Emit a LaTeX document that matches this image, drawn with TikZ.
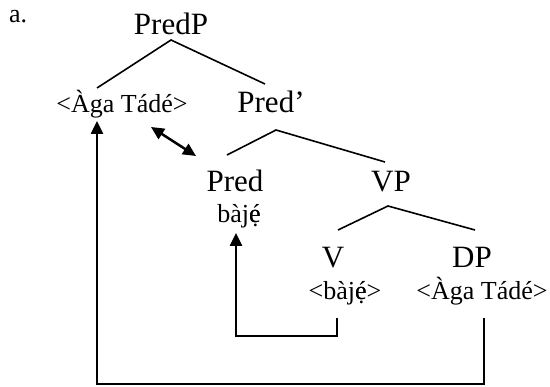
\documentclass[tikz,border=0pt]{standalone}
\usepackage{fontspec}
\setmainfont{Liberation Serif}
\usetikzlibrary{arrows.meta,calc}

% e with dot below and acute
\newcommand\edotacute{\ooalign{ẹ\cr é}}

\tikzset{
  cat/.style={font=\fontsize{31}{34}\selectfont, inner sep=0pt, anchor=base},
  word/.style={font=\fontsize{26}{29}\selectfont, inner sep=0pt, anchor=base},
  branch/.style={line width=1.6pt},
  move/.style={line width=2.5pt, -{Triangle[length=13pt,width=12pt]}},
  agree/.style={line width=2.5pt, {Triangle[length=13pt,width=12pt]}-{Triangle[length=13pt,width=12pt]}},
}

\begin{document}
\begin{tikzpicture}[x=1pt,y=-1pt]
    \useasboundingbox (0,0) rectangle (550,387);

    % labels of the tree
    \node[word, anchor=base west] (ex) at (9,23) {a.};
    \node[cat] (predp) at (171,35) {PredP};
    \node[word] (aga) at (122,113) {<Àga Tádé>};
    \node[cat] (predbar) at (271,113) {Pred’};
    \node[cat] (pred) at (235,192) {Pred};
    \node[word] (baje) at (239,223) {bàj\edotacute};
    \node[cat] (vp) at (391,192) {VP};
    \node[cat] (v) at (333,268) {V};
    \node[cat] (dp) at (472,268) {DP};
    \node[word] (vcopy) at (345,300) {<bàj\edotacute>};
    \node[word] (dpcopy) at (482,300) {<Àga Tádé>};

    % branches
    \draw[branch] ($(aga.base)+(-25,-25)$) -- ($(predp.base)+(0,5)$) -- ($(predbar.base)+(-6,-29)$);
    \draw[branch] ($(pred.base)+(-8,-37)$) -- ($(predbar.base)+(5,17)$) -- ($(vp.base)+(-6,-30)$);
    \draw[branch] ($(v.base)+(5,-38)$) -- ($(vp.base)+(-3,14)$) -- ($(dp.base)+(3,-38)$);

    % movement and agreement
    \draw[agree] ($(aga.base)+(29,14)$) -- ($(pred.base)+(-39,-36)$);
    \draw[move] ($(vcopy.base)+(-8,18)$) -- ++(0,18) -| ($(baje.base)+(-3,10)$);
    \draw[move] ($(dpcopy.base)+(2,18)$) -- ++(0,66) -| ($(aga.base)+(-25,8)$);
\end{tikzpicture}
\end{document}
